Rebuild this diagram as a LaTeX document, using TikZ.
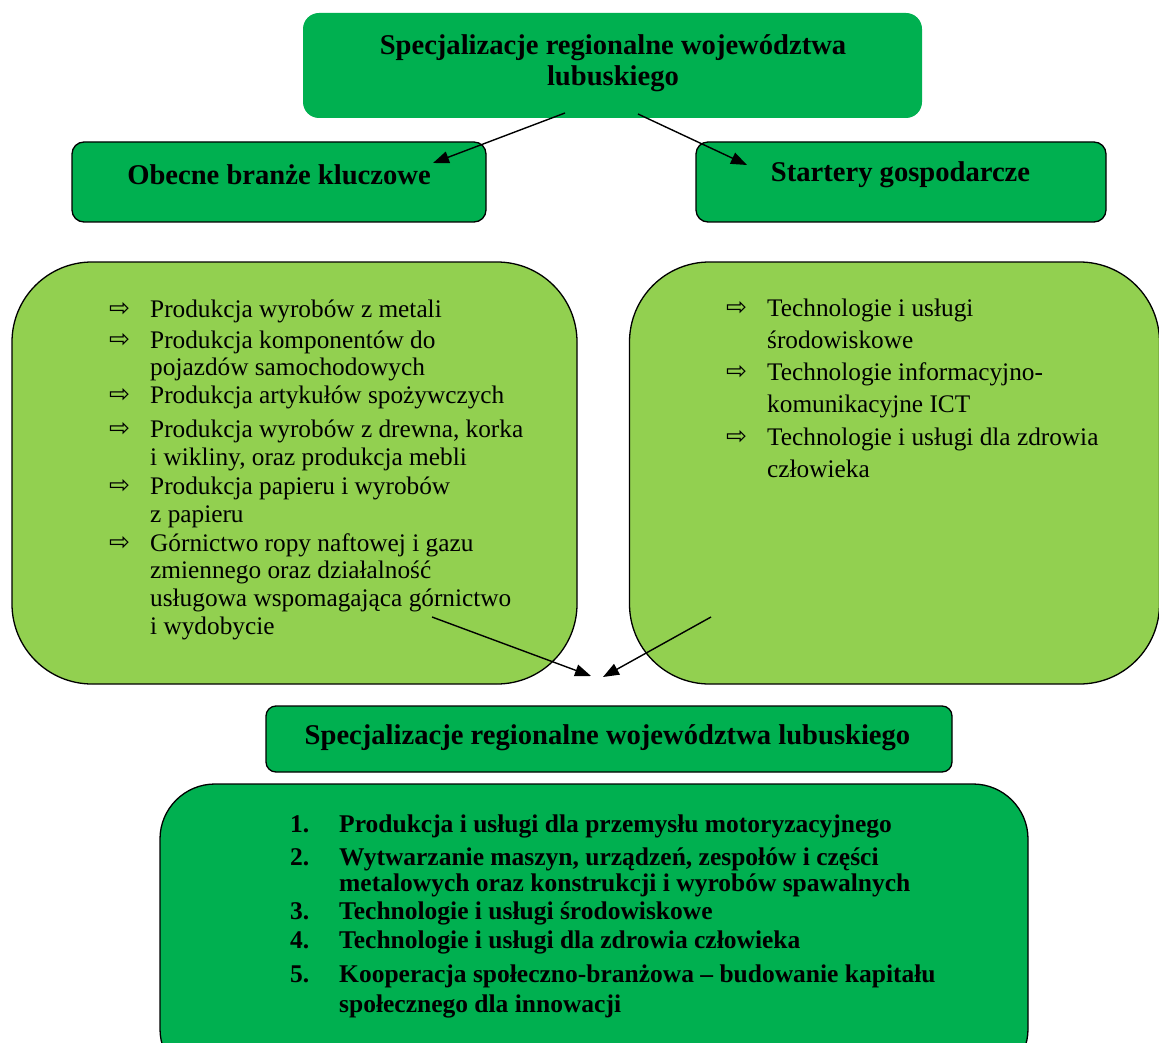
\documentclass[tikz,border=0pt]{standalone}
\usepackage{fontspec}
\setmainfont{Liberation Serif}
\newfontfamily\symfont{DejaVu Sans}
\usetikzlibrary{arrows.meta}
\definecolor{darkgr}{HTML}{00B050}
\definecolor{lightgr}{HTML}{92D050}
\newcommand{\regfont}{\fontsize{25.3}{28}\selectfont}
\newcommand{\titfont}{\fontsize{28.6}{31}\selectfont\bfseries}
\newcommand{\lstfont}{\fontsize{25.5}{26}\selectfont\bfseries}
\begin{document}
\begin{tikzpicture}[x=1pt,y=-1pt,
  darkbox/.style={draw=black,line width=1.3pt,fill=darkgr,rounded corners=12pt,inner sep=0pt},
  lightbox/.style={draw=black,line width=1.3pt,fill=lightgr,rounded corners=80pt,inner sep=0pt},
  txt/.style={inner sep=0pt,anchor=base west},
  bul/.style={inner sep=0pt,anchor=base west,font=\symfont\fontsize{25}{25}\selectfont},
  conn/.style={line width=1.4pt,-{Triangle[length=16pt,width=12pt]}}]
\useasboundingbox (0,0) rectangle (1159,1043);
% boxes
\node[fill=darkgr,rounded corners=16pt,minimum width=619pt,minimum height=105pt,inner sep=0pt] (top) at (612.5,65.5) {};
\node[inner sep=0pt,align=center,font=\titfont] (toptext) at (613,63) {Specjalizacje regionalne województwa\\lubuskiego};
\node[darkbox,minimum width=414pt,minimum height=80pt] (obec) at (279,182) {};
\node[inner sep=0pt,font=\titfont] (obectext) at (279,175) {Obecne branże kluczowe};
\node[darkbox,minimum width=410pt,minimum height=80pt] (start) at (901,182) {};
\node[inner sep=0pt,font=\titfont] (starttext) at (900.5,175) {Startery gospodarcze};
\node[lightbox,minimum width=565pt,minimum height=422pt] (left) at (294.5,473) {};
\node[lightbox,minimum width=530pt,minimum height=422pt] (right) at (894.5,473) {};
\node[darkbox,rounded corners=10pt,minimum width=686pt,minimum height=66pt] (bt) at (609,739) {};
\node[inner sep=0pt,font=\titfont] (bttext) at (607.5,738) {Specjalizacje regionalne województwa lubuskiego};
\node[darkbox,rounded corners=55pt,minimum width=868pt,minimum height=300pt] (bb) at (594,934) {};
% left list
\node[bul] (lb1) at (109,316) {⇨};
\node[txt,font=\regfont] (l1) at (150,317) {\parbox[t]{420pt}{\baselineskip=28pt Produkcja wyrobów z metali}};
\node[bul] (lb2) at (109,347) {⇨};
\node[txt,font=\regfont] (l2) at (150,348) {\parbox[t]{420pt}{\baselineskip=27pt Produkcja komponentów do\\pojazdów samochodowych}};
\node[bul] (lb3) at (109,402) {⇨};
\node[txt,font=\regfont] (l3) at (150,403) {\parbox[t]{420pt}{\baselineskip=28pt Produkcja artykułów spożywczych}};
\node[bul] (lb4) at (109,436) {⇨};
\node[txt,font=\regfont] (l4) at (150,437) {\parbox[t]{420pt}{\baselineskip=28pt Produkcja wyrobów z drewna, korka\\i wikliny, oraz produkcja mebli}};
\node[bul] (lb5) at (109,493) {⇨};
\node[txt,font=\regfont] (l5) at (150,494) {\parbox[t]{420pt}{\baselineskip=28pt Produkcja papieru i wyrobów\\z papieru}};
\node[bul] (lb6) at (109,550) {⇨};
\node[txt,font=\regfont] (l6) at (150,551) {\parbox[t]{420pt}{\baselineskip=27.7pt Górnictwo ropy naftowej i gazu\\zmiennego oraz działalność\\usługowa wspomagająca górnictwo\\i wydobycie}};
% right list
\node[bul] (rb1) at (726,315) {⇨};
\node[txt,font=\regfont] (r1) at (767,316) {\parbox[t]{380pt}{\baselineskip=32pt Technologie i usługi\\środowiskowe}};
\node[bul] (rb2) at (726,379) {⇨};
\node[txt,font=\regfont] (r2) at (767,380) {\parbox[t]{380pt}{\baselineskip=32pt Technologie informacyjno-\\komunikacyjne ICT}};
\node[bul] (rb3) at (726,444) {⇨};
\node[txt,font=\regfont] (r3) at (767,445) {\parbox[t]{380pt}{\baselineskip=32pt Technologie i usługi dla zdrowia\\człowieka}};
% bottom list
\node[txt,font=\lstfont] (n1) at (290,832) {1.};
\node[txt,font=\lstfont] (b1) at (339,832) {Produkcja i usługi dla przemysłu motoryzacyjnego};
\node[txt,font=\lstfont] (n2) at (290,865) {2.};
\node[txt,font=\lstfont] (b2) at (339,865) {\parbox[t]{700pt}{\baselineskip=26pt Wytwarzanie maszyn, urządzeń, zespołów i części\\metalowych oraz konstrukcji i wyrobów spawalnych}};
\node[txt,font=\lstfont] (n3) at (290,919) {3.};
\node[txt,font=\lstfont] (b3) at (339,919) {Technologie i usługi środowiskowe};
\node[txt,font=\lstfont] (n4) at (290,948) {4.};
\node[txt,font=\lstfont] (b4) at (339,948) {Technologie i usługi dla zdrowia człowieka};
\node[txt,font=\lstfont] (n5) at (290,982) {5.};
\node[txt,font=\lstfont] (b5) at (339,982) {\parbox[t]{700pt}{\baselineskip=30pt Kooperacja społeczno-branżowa – budowanie kapitału\\społecznego dla innowacji}};
% connectors
\coordinate (a1s) at (565,113);
\coordinate (a1e) at (433,163);
\coordinate (a2s) at (638,114);
\coordinate (a2e) at (747,165);
\coordinate (a3s) at (432,617);
\coordinate (a3e) at (591,676);
\coordinate (a4s) at (711,617);
\coordinate (a4e) at (603,677);
\draw[conn] (a1s) -- (a1e);
\draw[conn] (a2s) -- (a2e);
\draw[conn] (a3s) -- (a3e);
\draw[conn] (a4s) -- (a4e);
\end{tikzpicture}
\end{document}
